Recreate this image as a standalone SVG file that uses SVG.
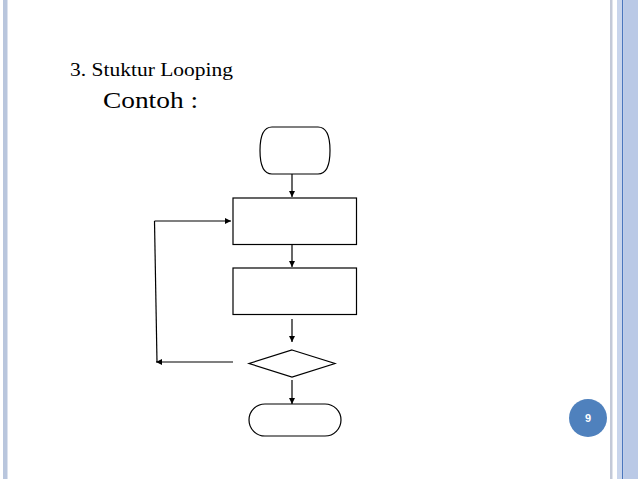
<svg xmlns="http://www.w3.org/2000/svg" width="638" height="479" viewBox="0 0 638 479">
<defs>
<style>
.sh{fill:#fff;stroke:#000;stroke-width:1.2}
.ln{fill:none;stroke:#000;stroke-width:1.2}
.t{font-family:"Liberation Serif",serif;fill:#000}
</style>
<marker id="ah" viewBox="0 0 10 10" refX="10" refY="5" markerWidth="6" markerHeight="6" markerUnits="userSpaceOnUse" orient="auto"><path d="M0,0 L10,5 L0,10 z" fill="#000"/></marker>
</defs>
<rect width="638" height="479" fill="#fff"/>
<rect x="3" y="0" width="4.5" height="479" fill="#b9c6dd"/>
<rect x="610" y="0" width="2.5" height="479" fill="#c3c9d8"/>
<rect x="617" y="0" width="5" height="479" fill="#c9d5ec"/>
<rect x="622" y="0" width="1.2" height="479" fill="#4a76bd"/>
<rect x="623.2" y="0" width="14.8" height="479" fill="#bac9e6"/>
<text class="t" x="70" y="76" font-size="19" textLength="163" lengthAdjust="spacingAndGlyphs">3. Stuktur Looping</text>
<text class="t" x="103" y="108" font-size="23" textLength="95" lengthAdjust="spacingAndGlyphs">Contoh :</text>
<g id="start"><path class="sh" d="M272,127 H318 Q330,127 330,150.5 Q330,174 318,174 H272 Q260,174 260,150.5 Q260,127 272,127 Z"/></g>
<g id="process1"><rect class="sh" x="233" y="198" width="123.5" height="46.5"/></g>
<g id="process2"><rect class="sh" x="233" y="268" width="123.5" height="46.5"/></g>
<g id="decision"><path class="sh" d="M292,350 L335,363.5 L292,377 L249,363.5 Z"/></g>
<g id="end"><rect class="sh" x="249" y="404" width="92" height="32" rx="16" ry="16"/></g>
<g id="connectors">
<line class="ln" x1="292" y1="174" x2="292" y2="197" marker-end="url(#ah)"/>
<line class="ln" x1="292" y1="245" x2="292" y2="267" marker-end="url(#ah)"/>
<line class="ln" x1="292" y1="319" x2="292" y2="342" marker-end="url(#ah)"/>
<line class="ln" x1="292" y1="380" x2="292" y2="404" marker-end="url(#ah)"/>
<line class="ln" x1="233" y1="362" x2="156" y2="362" marker-end="url(#ah)"/>
<line class="ln" x1="157" y1="362" x2="154.5" y2="221"/>
<line class="ln" x1="154.5" y1="221" x2="231" y2="221" marker-end="url(#ah)"/>
</g>
<g id="page">
<circle cx="588" cy="418" r="19" fill="#4f81bd"/>
<text x="588" y="422" font-family="Liberation Sans,Arial,sans-serif" font-size="11" font-weight="bold" fill="#fff" text-anchor="middle">9</text>
</g>
</svg>
